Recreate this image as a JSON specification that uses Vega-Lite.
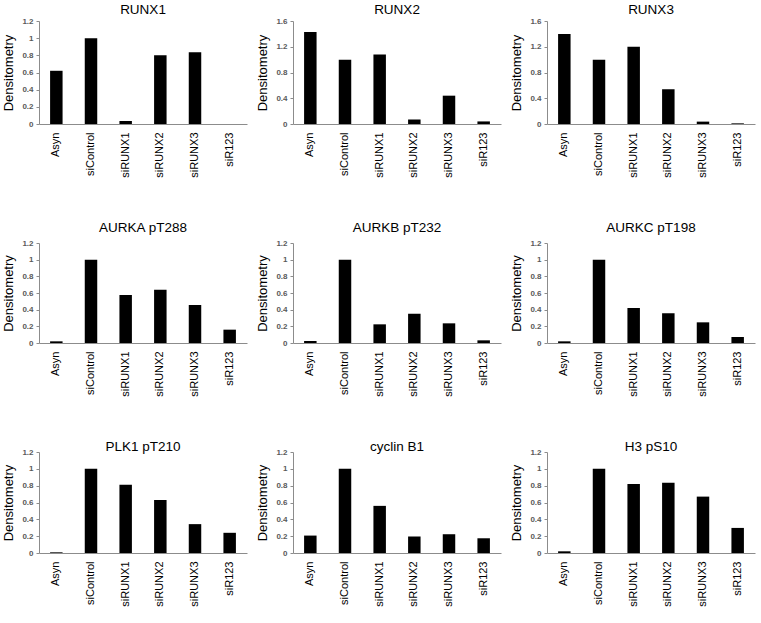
{
  "$schema": "https://vega.github.io/schema/vega-lite/v6.json",
  "padding": {"left": 2, "top": 2, "right": 2, "bottom": 2},
  "background": "white",
  "datasets": {
    "d": [
      {"panel": "RUNX1", "condition": "Asyn", "value": 0.62},
      {"panel": "RUNX1", "condition": "siControl", "value": 1.0},
      {"panel": "RUNX1", "condition": "siRUNX1", "value": 0.035},
      {"panel": "RUNX1", "condition": "siRUNX2", "value": 0.80},
      {"panel": "RUNX1", "condition": "siRUNX3", "value": 0.835},
      {"panel": "RUNX1", "condition": "siR123", "value": 0.0},
      {"panel": "RUNX2", "condition": "Asyn", "value": 1.43},
      {"panel": "RUNX2", "condition": "siControl", "value": 1.0},
      {"panel": "RUNX2", "condition": "siRUNX1", "value": 1.08},
      {"panel": "RUNX2", "condition": "siRUNX2", "value": 0.07},
      {"panel": "RUNX2", "condition": "siRUNX3", "value": 0.44},
      {"panel": "RUNX2", "condition": "siR123", "value": 0.04},
      {"panel": "RUNX3", "condition": "Asyn", "value": 1.40},
      {"panel": "RUNX3", "condition": "siControl", "value": 1.0},
      {"panel": "RUNX3", "condition": "siRUNX1", "value": 1.20},
      {"panel": "RUNX3", "condition": "siRUNX2", "value": 0.54},
      {"panel": "RUNX3", "condition": "siRUNX3", "value": 0.037},
      {"panel": "RUNX3", "condition": "siR123", "value": 0.01},
      {"panel": "AURKA pT288", "condition": "Asyn", "value": 0.02},
      {"panel": "AURKA pT288", "condition": "siControl", "value": 1.0},
      {"panel": "AURKA pT288", "condition": "siRUNX1", "value": 0.576},
      {"panel": "AURKA pT288", "condition": "siRUNX2", "value": 0.64},
      {"panel": "AURKA pT288", "condition": "siRUNX3", "value": 0.456},
      {"panel": "AURKA pT288", "condition": "siR123", "value": 0.16},
      {"panel": "AURKB pT232", "condition": "Asyn", "value": 0.024},
      {"panel": "AURKB pT232", "condition": "siControl", "value": 1.0},
      {"panel": "AURKB pT232", "condition": "siRUNX1", "value": 0.224},
      {"panel": "AURKB pT232", "condition": "siRUNX2", "value": 0.352},
      {"panel": "AURKB pT232", "condition": "siRUNX3", "value": 0.236},
      {"panel": "AURKB pT232", "condition": "siR123", "value": 0.032},
      {"panel": "AURKC pT198", "condition": "Asyn", "value": 0.02},
      {"panel": "AURKC pT198", "condition": "siControl", "value": 1.0},
      {"panel": "AURKC pT198", "condition": "siRUNX1", "value": 0.42},
      {"panel": "AURKC pT198", "condition": "siRUNX2", "value": 0.356},
      {"panel": "AURKC pT198", "condition": "siRUNX3", "value": 0.248},
      {"panel": "AURKC pT198", "condition": "siR123", "value": 0.072},
      {"panel": "PLK1 pT210", "condition": "Asyn", "value": 0.008},
      {"panel": "PLK1 pT210", "condition": "siControl", "value": 1.0},
      {"panel": "PLK1 pT210", "condition": "siRUNX1", "value": 0.81},
      {"panel": "PLK1 pT210", "condition": "siRUNX2", "value": 0.63},
      {"panel": "PLK1 pT210", "condition": "siRUNX3", "value": 0.343},
      {"panel": "PLK1 pT210", "condition": "siR123", "value": 0.24},
      {"panel": "cyclin B1", "condition": "Asyn", "value": 0.207},
      {"panel": "cyclin B1", "condition": "siControl", "value": 1.0},
      {"panel": "cyclin B1", "condition": "siRUNX1", "value": 0.56},
      {"panel": "cyclin B1", "condition": "siRUNX2", "value": 0.195},
      {"panel": "cyclin B1", "condition": "siRUNX3", "value": 0.223},
      {"panel": "cyclin B1", "condition": "siR123", "value": 0.175},
      {"panel": "H3 pS10", "condition": "Asyn", "value": 0.02},
      {"panel": "H3 pS10", "condition": "siControl", "value": 1.0},
      {"panel": "H3 pS10", "condition": "siRUNX1", "value": 0.82},
      {"panel": "H3 pS10", "condition": "siRUNX2", "value": 0.834},
      {"panel": "H3 pS10", "condition": "siRUNX3", "value": 0.67},
      {"panel": "H3 pS10", "condition": "siR123", "value": 0.298}
    ]
  },
  "data": {"name": "d"},
  "spacing": 42,
  "vconcat": [
    {
      "bounds": "flush",
      "spacing": 46,
      "hconcat": [
        {"title": {"text": "RUNX1", "offset": 1}, "width": 208, "height": 103,
         "transform": [{"filter": "datum.panel === 'RUNX1'"}],
         "mark": {"type": "bar", "width": {"band": 0.36}, "color": "black"},
         "encoding": {
           "x": {"field": "condition", "type": "nominal", "sort": ["Asyn","siControl","siRUNX1","siRUNX2","siRUNX3","siR123"], "scale": {"paddingInner": 0, "paddingOuter": 0}, "axis": {"title": null}},
           "y": {"field": "value", "type": "quantitative", "scale": {"domain": [0, 1.2], "nice": false}, "axis": {"values": [0,0.2,0.4,0.6,0.8,1,1.2], "title": "Densitometry"}}}},
        {"title": {"text": "RUNX2", "offset": 1}, "width": 208, "height": 103,
         "transform": [{"filter": "datum.panel === 'RUNX2'"}],
         "mark": {"type": "bar", "width": {"band": 0.36}, "color": "black"},
         "encoding": {
           "x": {"field": "condition", "type": "nominal", "sort": ["Asyn","siControl","siRUNX1","siRUNX2","siRUNX3","siR123"], "scale": {"paddingInner": 0, "paddingOuter": 0}, "axis": {"title": null}},
           "y": {"field": "value", "type": "quantitative", "scale": {"domain": [0, 1.6], "nice": false}, "axis": {"values": [0,0.4,0.8,1.2,1.6], "title": "Densitometry"}}}},
        {"title": {"text": "RUNX3", "offset": 1}, "width": 208, "height": 103,
         "transform": [{"filter": "datum.panel === 'RUNX3'"}],
         "mark": {"type": "bar", "width": {"band": 0.36}, "color": "black"},
         "encoding": {
           "x": {"field": "condition", "type": "nominal", "sort": ["Asyn","siControl","siRUNX1","siRUNX2","siRUNX3","siR123"], "scale": {"paddingInner": 0, "paddingOuter": 0}, "axis": {"title": null}},
           "y": {"field": "value", "type": "quantitative", "scale": {"domain": [0, 1.6], "nice": false}, "axis": {"values": [0,0.4,0.8,1.2,1.6], "title": "Densitometry"}}}}
      ]
    },
    {
      "bounds": "flush",
      "spacing": 46,
      "hconcat": [
        {"title": {"text": "AURKA pT288", "offset": 5}, "width": 208, "height": 100,
         "transform": [{"filter": "datum.panel === 'AURKA pT288'"}],
         "mark": {"type": "bar", "width": {"band": 0.36}, "color": "black"},
         "encoding": {
           "x": {"field": "condition", "type": "nominal", "sort": ["Asyn","siControl","siRUNX1","siRUNX2","siRUNX3","siR123"], "scale": {"paddingInner": 0, "paddingOuter": 0}, "axis": {"title": null}},
           "y": {"field": "value", "type": "quantitative", "scale": {"domain": [0, 1.2], "nice": false}, "axis": {"values": [0,0.2,0.4,0.6,0.8,1,1.2], "title": "Densitometry"}}}},
        {"title": {"text": "AURKB pT232", "offset": 5}, "width": 208, "height": 100,
         "transform": [{"filter": "datum.panel === 'AURKB pT232'"}],
         "mark": {"type": "bar", "width": {"band": 0.36}, "color": "black"},
         "encoding": {
           "x": {"field": "condition", "type": "nominal", "sort": ["Asyn","siControl","siRUNX1","siRUNX2","siRUNX3","siR123"], "scale": {"paddingInner": 0, "paddingOuter": 0}, "axis": {"title": null}},
           "y": {"field": "value", "type": "quantitative", "scale": {"domain": [0, 1.2], "nice": false}, "axis": {"values": [0,0.2,0.4,0.6,0.8,1,1.2], "title": "Densitometry"}}}},
        {"title": {"text": "AURKC pT198", "offset": 5}, "width": 208, "height": 100,
         "transform": [{"filter": "datum.panel === 'AURKC pT198'"}],
         "mark": {"type": "bar", "width": {"band": 0.36}, "color": "black"},
         "encoding": {
           "x": {"field": "condition", "type": "nominal", "sort": ["Asyn","siControl","siRUNX1","siRUNX2","siRUNX3","siR123"], "scale": {"paddingInner": 0, "paddingOuter": 0}, "axis": {"title": null}},
           "y": {"field": "value", "type": "quantitative", "scale": {"domain": [0, 1.2], "nice": false}, "axis": {"values": [0,0.2,0.4,0.6,0.8,1,1.2], "title": "Densitometry"}}}}
      ]
    },
    {
      "bounds": "flush",
      "spacing": 46,
      "hconcat": [
        {"title": {"text": "PLK1 pT210", "offset": -5}, "width": 208, "height": 101,
         "transform": [{"filter": "datum.panel === 'PLK1 pT210'"}],
         "mark": {"type": "bar", "width": {"band": 0.36}, "color": "black"},
         "encoding": {
           "x": {"field": "condition", "type": "nominal", "sort": ["Asyn","siControl","siRUNX1","siRUNX2","siRUNX3","siR123"], "scale": {"paddingInner": 0, "paddingOuter": 0}, "axis": {"title": null}},
           "y": {"field": "value", "type": "quantitative", "scale": {"domain": [0, 1.2], "nice": false}, "axis": {"values": [0,0.2,0.4,0.6,0.8,1,1.2], "title": "Densitometry"}}}},
        {"title": {"text": "cyclin B1", "offset": -5}, "width": 208, "height": 101,
         "transform": [{"filter": "datum.panel === 'cyclin B1'"}],
         "mark": {"type": "bar", "width": {"band": 0.36}, "color": "black"},
         "encoding": {
           "x": {"field": "condition", "type": "nominal", "sort": ["Asyn","siControl","siRUNX1","siRUNX2","siRUNX3","siR123"], "scale": {"paddingInner": 0, "paddingOuter": 0}, "axis": {"title": null}},
           "y": {"field": "value", "type": "quantitative", "scale": {"domain": [0, 1.2], "nice": false}, "axis": {"values": [0,0.2,0.4,0.6,0.8,1,1.2], "title": "Densitometry"}}}},
        {"title": {"text": "H3 pS10", "offset": -5}, "width": 208, "height": 101,
         "transform": [{"filter": "datum.panel === 'H3 pS10'"}],
         "mark": {"type": "bar", "width": {"band": 0.36}, "color": "black"},
         "encoding": {
           "x": {"field": "condition", "type": "nominal", "sort": ["Asyn","siControl","siRUNX1","siRUNX2","siRUNX3","siR123"], "scale": {"paddingInner": 0, "paddingOuter": 0}, "axis": {"title": null}},
           "y": {"field": "value", "type": "quantitative", "scale": {"domain": [0, 1.2], "nice": false}, "axis": {"values": [0,0.2,0.4,0.6,0.8,1,1.2], "title": "Densitometry"}}}}
      ]
    }
  ],
  "config": {
    "font": "Liberation Sans",
    "view": {"stroke": null},
    "title": {"fontSize": 13.5, "fontWeight": "normal", "color": "black", "font": "Liberation Sans"},
    "axis": {"domainColor": "#8c8c8c", "grid": false, "labelFont": "Liberation Sans", "titleFont": "Liberation Sans"},
    "axisY": {"labelFontWeight": "bold", "labelFontSize": 8, "labelColor": "#595959", "tickColor": "#8c8c8c", "tickSize": 3, "labelPadding": 3, "titleFontSize": 13, "titleFontWeight": "normal", "titleColor": "black", "titlePadding": 6, "labelExpr": "format(datum.value, '~g')"},
    "axisX": {"labelAngle": 270, "labelFontSize": 11, "labelColor": "black", "ticks": false, "tickSize": 0, "labelPadding": 8}
  }
}
